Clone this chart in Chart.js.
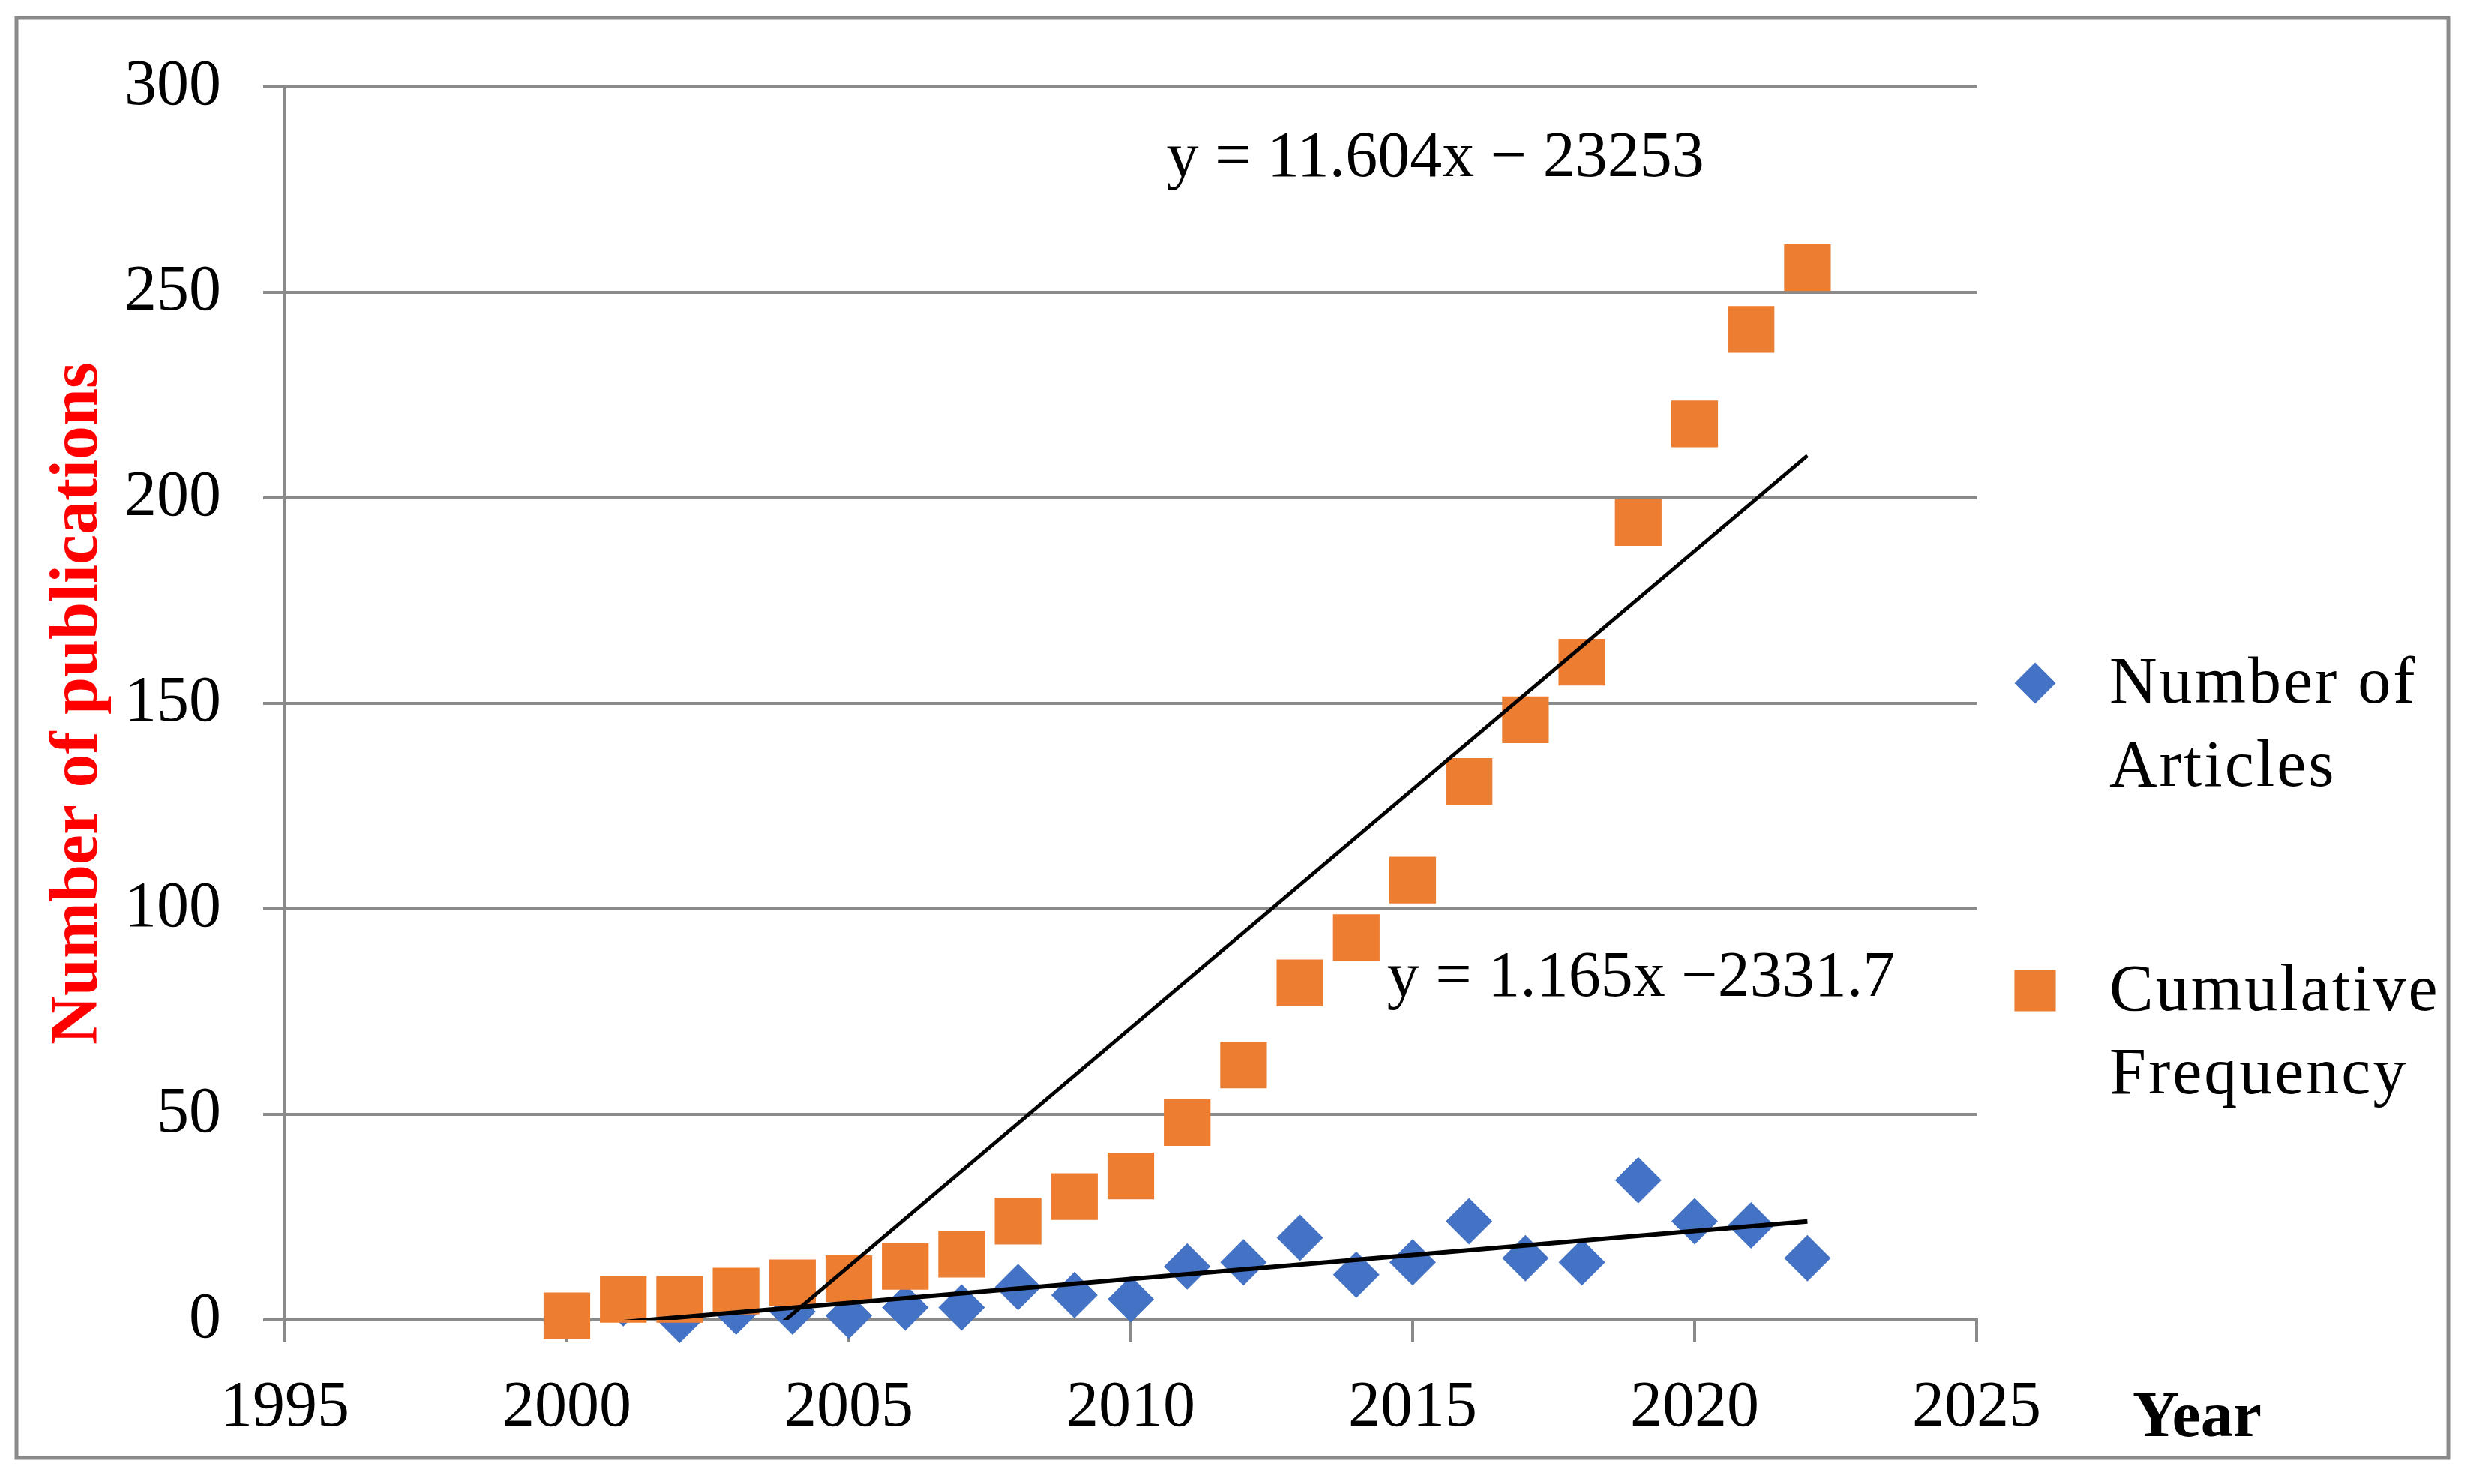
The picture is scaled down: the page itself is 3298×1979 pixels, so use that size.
<!DOCTYPE html>
<html lang="en">
<head>
  <meta charset="UTF-8" />
  <title>Number of publications</title>
  <script src="https://cdn.jsdelivr.net/npm/chart.js"></script>
  <style>
    html, body { margin: 0; padding: 0; background: #fff; }
    canvas { display: block; }
  </style>
</head>
<body>
  <canvas id="pubChart" width="3298" height="1979"></canvas>

  <script>
    // values
    const years = [2000, 2001, 2002, 2003, 2004, 2005, 2006, 2007, 2008, 2009, 2010, 2011,
                   2012, 2013, 2014, 2015, 2016, 2017, 2018, 2019, 2020, 2021, 2022];
    const articles = [null, 4, 0, 2, 2, 1, 3, 3, 8, 6, 5, 13,
                      14, 20, 11, 14, 24, 15, 14, 34, 24, 23, 15];
    const cumulative = [1, 5, 5, 7, 9, 10, 13, 16, 24, 30, 35, 48,
                        62, 82, 93, 107, 131, 146, 160, 194, 218, 241, 256];
    const seriesNames = ['Number of Articles', 'Cumulative Frequency'];
    const legendLines = [['Number of', 'Articles'], ['Cumulative', 'Frequency']];

    // linear trendlines as printed on the chart
    const trendCumulative = { slope: 11.604, intercept: -23253, from: 2000, to: 2022, label: 'y = 11.604x \u2212 23253' };
    const trendArticles = { slope: 1.165, intercept: -2331.7, from: 2001, to: 2022, label: 'y = 1.165x \u22122331.7' };

    const xTicks = { min: 1995, max: 2025, step: 5 };
    const yTicks = { min: 0, max: 300, step: 50 };

    const serif = "'Liberation Serif', 'Times New Roman', serif";
    const blue = '#4472C4';
    const orange = '#ED7D31';
    const grey = '#8A8A8A';

    function points(xs, ys) {
      return xs.map((x, i) => ({ x: x, y: ys[i] })).filter(p => p.y !== null);
    }

    function trendPoints(t) {
      return [t.from, t.to].map(x => ({ x: x, y: t.slope * x + t.intercept }));
    }

    const extras = {
      id: 'extras',
      beforeDraw(chart) {
        const ctx = chart.ctx;
        ctx.save();
        ctx.fillStyle = '#fff';
        ctx.fillRect(0, 0, chart.width, chart.height);
        ctx.strokeStyle = grey;
        ctx.lineWidth = 5;
        ctx.strokeRect(22, 24, 3243, 1920);
        ctx.restore();
      },
      afterDraw(chart) {
        const ctx = chart.ctx;
        const xs = chart.scales.x;
        const ys = chart.scales.y;
        ctx.save();

        // legend
        const items = [
          { style: 'rectRot', radius: 27.5, color: blue, cy: 911, base: 937, lines: legendLines[0] },
          { style: 'rect', radius: 39, color: orange, cy: 1321, base: 1347, lines: legendLines[1] }
        ];
        items.forEach(item => {
          ctx.fillStyle = item.color;
          Chart.helpers.drawPoint(ctx, { pointStyle: item.style, radius: item.radius, rotation: 0, borderWidth: 0 }, 2714, item.cy);
          ctx.fillStyle = '#000';
          ctx.font = '88px ' + serif;
          ctx.letterSpacing = '3px';
          ctx.textAlign = 'left';
          ctx.textBaseline = 'alphabetic';
          item.lines.forEach((line, i) => ctx.fillText(line, 2813, item.base + i * 111));
        });
        ctx.letterSpacing = '0px';

        // trendline equations
        ctx.font = '86px ' + serif;
        ctx.textAlign = 'center';
        ctx.fillText(trendCumulative.label, xs.getPixelForValue(2015.4), ys.getPixelForValue(278.3));
        ctx.fillText(trendArticles.label, xs.getPixelForValue(2019.05), ys.getPixelForValue(78.8));

        // x axis name
        ctx.font = 'bold 86px ' + serif;
        ctx.fillText('Year', 2930, 1915);
        ctx.restore();
      }
    };

    new Chart(document.getElementById('pubChart').getContext('2d'), {
      type: 'scatter',
      data: {
        datasets: [
          {
            label: seriesNames[0],
            data: points(years, articles),
            pointStyle: 'rectRot',
            pointRadius: 31,
            pointBorderWidth: 0,
            backgroundColor: blue,
            borderColor: blue,
            clip: false,
            order: 2
          },
          {
            label: seriesNames[1],
            data: points(years, cumulative),
            pointStyle: 'rect',
            pointRadius: 44,
            pointBorderWidth: 0,
            backgroundColor: orange,
            borderColor: orange,
            clip: false,
            order: 1
          },
          {
            label: 'Linear (' + seriesNames[1] + ')',
            data: trendPoints(trendCumulative),
            showLine: true,
            pointRadius: 0,
            borderColor: '#000',
            borderWidth: 5,
            order: 0
          },
          {
            label: 'Linear (' + seriesNames[0] + ')',
            data: trendPoints(trendArticles),
            showLine: true,
            pointRadius: 0,
            borderColor: '#000',
            borderWidth: 6,
            order: 0
          }
        ]
      },
      options: {
        responsive: false,
        animation: false,
        devicePixelRatio: 1,
        layout: { padding: { left: 0, top: 116, right: 662, bottom: 0 } },
        plugins: {
          legend: { display: false },
          tooltip: { enabled: false }
        },
        scales: {
          x: {
            type: 'linear',
            min: xTicks.min,
            max: xTicks.max,
            afterFit: s => { s.height = 219; },
            ticks: {
              stepSize: xTicks.step,
              padding: 38,
              color: '#000',
              font: { family: serif, size: 86 },
              callback: v => String(v)
            },
            grid: { drawOnChartArea: false, drawTicks: true, tickLength: 29, color: grey, lineWidth: 4 },
            border: { display: true, color: grey, width: 4 }
          },
          y: {
            type: 'linear',
            min: yTicks.min,
            max: yTicks.max,
            afterFit: s => { s.width = 380; },
            ticks: {
              stepSize: yTicks.step,
              padding: 56,
              color: '#000',
              font: { family: serif, size: 86 },
              callback: v => String(v)
            },
            grid: { drawTicks: true, tickLength: 29, color: grey, lineWidth: 4 },
            border: { display: true, color: grey, width: 4 },
            title: {
              display: true,
              text: 'Number of publications',
              color: '#FF0000',
              font: { family: serif, size: 90, weight: 'bold' },
              padding: { top: 52, bottom: 0 }
            }
          }
        }
      },
      plugins: [extras]
    });
  </script>
</body>
</html>
